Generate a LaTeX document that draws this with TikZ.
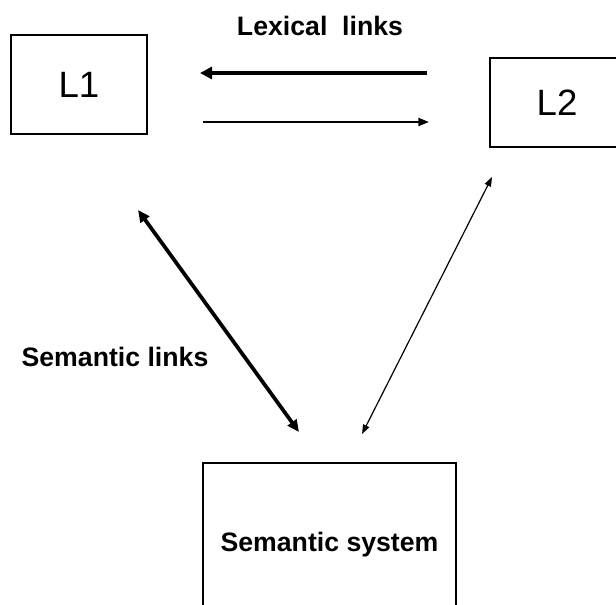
\documentclass[tikz,border=0pt]{standalone}
\usepackage{fontspec}
\setmainfont{Liberation Sans}
\usetikzlibrary{arrows.meta}
\begin{document}
\begin{tikzpicture}[x=0.75pt,y=-0.75pt,
  box/.style={draw=black,line width=1.3pt,rectangle,inner sep=0pt},
  lang/.style={font=\fontsize{27.5}{30}\selectfont},
  lbl/.style={font=\bfseries\fontsize{20}{23}\selectfont,inner sep=0pt},
  thickarr/.style={line width=3pt,-{Triangle[length=9pt,width=9pt]}},
  thinarr/.style={line width=1.4pt,-{Triangle[length=8pt,width=6pt]}},
  thickdbl/.style={line width=2.8pt,{Triangle[length=9pt,width=8pt]}-{Triangle[length=9pt,width=8pt]}},
  thindbl/.style={line width=0.9pt,{Triangle[length=7pt,width=5pt]}-{Triangle[length=7pt,width=5pt]}}]
\useasboundingbox (0,0) rectangle (616,604);
\fill[white] (0,0) rectangle (616,604);
\node[box,lang,minimum width=102pt,minimum height=74.25pt] (L1) at (79,84.5) {L1};
\node[box,lang,minimum width=100pt,minimum height=66.75pt] (L2) at (557,102.5) {L2};
\node[box,minimum width=189.75pt,minimum height=123pt,font=\bfseries\fontsize{20}{23}\selectfont] (S) at (329.5,545) {Semantic system};
\node[lbl] (lex) at (320,26) {Lexical\ \ links};
\node[lbl] (sem) at (115,357) {Semantic links};
\coordinate (a1) at (427,73);
\coordinate (a2) at (200,73);
\coordinate (b1) at (203,122);
\coordinate (b2) at (429,122);
\coordinate (c1) at (138,210);
\coordinate (c2) at (299,432);
\coordinate (d1) at (492,177);
\coordinate (d2) at (362,434);
\draw[thickarr] (a1) -- (a2);
\draw[thinarr] (b1) -- (b2);
\draw[thickdbl] (c1) -- (c2);
\draw[thindbl] (d1) -- (d2);
\end{tikzpicture}
\end{document}
